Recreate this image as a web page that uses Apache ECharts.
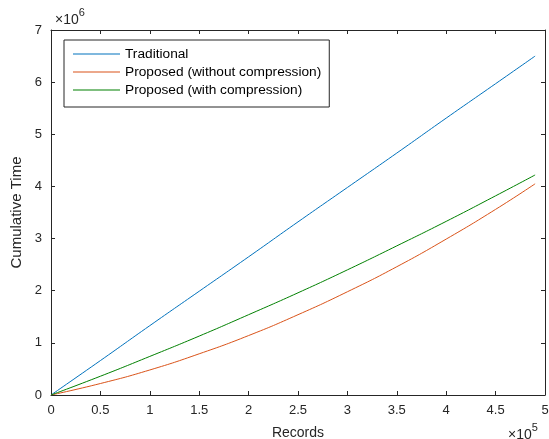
<!DOCTYPE html>
<html>
<head>
<meta charset="utf-8">
<script src="https://cdn.jsdelivr.net/npm/echarts@6/dist/echarts.min.js"></script>
<style>
  html, body { margin: 0; padding: 0; background: #fff; }
  #chart { width: 549px; height: 439px; }
</style>
</head>
<body>
<div id="chart"></div>
<script>
// records (x) and cumulative time values
const records = [0, 50000, 100000, 150000, 200000, 250000, 300000, 350000, 400000, 450000, 490000]
const traditional = [0, 0.66e6, 1.33e6, 1.99e6, 2.65e6, 3.32e6, 3.98e6, 4.64e6, 5.31e6, 5.97e6, 6.50e6]
const proposedNoComp = [0, 0.22e6, 0.48e6, 0.79e6, 1.14e6, 1.54e6, 1.98e6, 2.46e6, 2.99e6, 3.56e6, 4.05e6]
const proposedComp = [0, 0.36e6, 0.74e6, 1.13e6, 1.54e6, 1.96e6, 2.40e6, 2.86e6, 3.33e6, 3.82e6, 4.22e6]
const seriesNames = ['Traditional', 'Proposed (without compression)', 'Proposed (with compression)']

const chart = echarts.init(document.getElementById('chart'))

const pairs = arr => records.map((x, i) => [x, arr[i]])
const font = 'Liberation Sans, Arial, sans-serif'
const axisColor = '#262626'

const boxAxis = {
  min: 0,
  axisLine: { show: true, onZero: false, lineStyle: { color: axisColor, width: 1 } },
  axisTick: { show: true, inside: true, length: 4, lineStyle: { color: axisColor } },
  splitLine: { show: false }
}

const expText = exp => ({
  text: '{a|×10}{b|' + exp + '}',
  rich: {
    a: { fontFamily: font, fontSize: 14, fill: axisColor, padding: [6, 0, 0, 0] },
    b: { fontFamily: font, fontSize: 11, fill: axisColor, verticalAlign: 'top' }
  }
})

chart.setOption({
  animation: false,
  color: ['#0072BD', '#D95319', '#008000'],
  grid: { left: 51, right: 4, top: 30, bottom: 44, outerBoundsMode: 'none' },
  legend: {
    orient: 'vertical',
    left: 64,
    top: 40,
    padding: [6, 8, 9, 9],
    itemGap: 2,
    itemWidth: 47,
    itemHeight: 1,
    icon: 'rect',
    borderColor: axisColor,
    borderWidth: 1,
    backgroundColor: '#fff',
    data: seriesNames,
    textStyle: { fontFamily: font, fontSize: 13.7, color: '#000', lineHeight: 16, padding: [0, 0, 0, 0] }
  },
  xAxis: [
    Object.assign({}, boxAxis, {
      type: 'value',
      max: 500000,
      interval: 50000,
      name: 'Records',
      nameLocation: 'middle',
      nameGap: 31,
      nameTextStyle: { fontFamily: font, fontSize: 14, color: axisColor },
      axisLabel: {
        fontFamily: font, fontSize: 13, color: axisColor, margin: 9,
        formatter: v => String(v / 1e5)
      }
    }),
    Object.assign({}, boxAxis, {
      type: 'value',
      position: 'top',
      max: 500000,
      interval: 50000,
      axisLabel: { show: false }
    })
  ],
  yAxis: [
    Object.assign({}, boxAxis, {
      type: 'value',
      max: 7e6,
      interval: 1e6,
      name: 'Cumulative Time',
      nameLocation: 'middle',
      nameGap: 25,
      nameTextStyle: { fontFamily: font, fontSize: 15, color: axisColor },
      axisLabel: {
        fontFamily: font, fontSize: 13, color: axisColor, margin: 9,
        formatter: v => String(v / 1e6)
      }
    }),
    Object.assign({}, boxAxis, {
      type: 'value',
      position: 'right',
      max: 7e6,
      interval: 1e6,
      axisLabel: { show: false }
    })
  ],
  graphic: [
    { type: 'text', left: 55, top: 7, style: expText(6) },
    { type: 'text', left: 508, top: 422, style: expText(5) }
  ],
  series: [
    { name: seriesNames[0], data: pairs(traditional) },
    { name: seriesNames[1], data: pairs(proposedNoComp) },
    { name: seriesNames[2], data: pairs(proposedComp) }
  ].map(s => Object.assign({
    type: 'line',
    showSymbol: false,
    smooth: true,
    lineStyle: { width: 1 }
  }, s))
})
</script>
</body>
</html>
